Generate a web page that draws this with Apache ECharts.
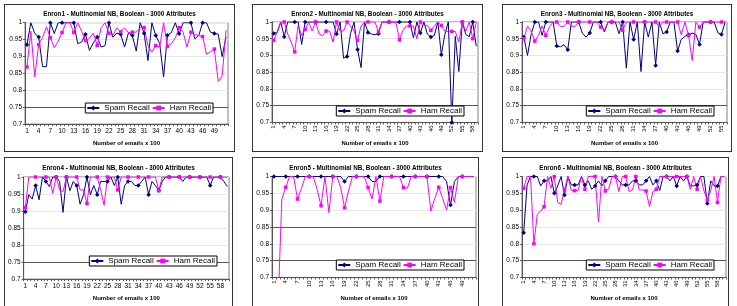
<!DOCTYPE html>
<html>
<head>
<meta charset="utf-8">
<script src="https://cdn.jsdelivr.net/npm/echarts@6/dist/echarts.min.js"></script>
<style>
body{margin:0;width:737px;height:306px;background:#fff;overflow:hidden;position:relative}
.panel{position:absolute;border:1px solid #333;background:#fff}
</style>
</head>
<body>
<div class="panel" id="c1" style="left:4px;top:4px;width:229px;height:146px"></div>
<div class="panel" id="c2" style="left:252px;top:4px;width:229px;height:146px"></div>
<div class="panel" id="c3" style="left:502px;top:4px;width:228px;height:146px"></div>
<div class="panel" id="c4" style="left:4px;top:157px;width:227px;height:148px"></div>
<div class="panel" id="c5" style="left:252px;top:157px;width:225px;height:148px"></div>
<div class="panel" id="c6" style="left:502px;top:157px;width:225px;height:148px"></div>
<script>
// recall per batch of 100 emails
const enron1Spam = [0.935, 1, 0.968, 0.958, 0.87, 0.87, 1, 0.968, 1, 1, 1, 1, 1,
  0.938, 0.943, 0.966, 0.918, 0.94, 0.958, 0.928, 0.932, 1, 0.957, 0.969, 0.966, 0.928,
  0.97, 0.962, 0.916, 1, 0.969, 0.888, 1, 0.962, 0.938, 0.84, 0.963, 0.971, 1,
  0.967, 1, 1, 1, 0.952, 0.962, 1, 1, 0.972, 0.968, 0.966, 0.9, 0.958]
const enron1Ham = [0.869, 0.975, 0.84, 0.935, 0.956, 0.988, 0.956, 0.926, 0.945, 0.971, 1, 1, 0.971,
  1, 0.975, 0.947, 0.954, 0.969, 0.933, 0.985, 1, 0.969, 0.962, 0.985, 0.973, 0.985, 0.97,
  0.972, 0.972, 0.985, 0.985, 0.932, 0.913, 0.932, 0.928, 1, 0.93, 0.938, 0.955, 0.985, 0.972,
  0.928, 0.972, 0.965, 0.962, 0.959, 0.907, 0.914, 0.922, 0.826, 0.842, 0.978]

const enron2Spam = [0.966, 0.969, 1, 0.956, 1, 1, 1, 1, 0.933, 1, 1, 1, 1, 1, 1, 1, 1, 1,
  0.964, 1, 0.892, 0.897, 0.966, 1, 0.918, 0.864, 1, 0.969, 0.964,
  0.962, 0.965, 1, 1, 1, 1, 1, 1, 1, 1, 1, 0.953, 1, 0.967, 1, 0.964, 0.955, 0.96, 1,
  0.902, 0.963, 1, 0.7, 0.957, 0.852, 1, 0.963, 0.956, 1, 0.928]
const enron2Ham = [0.945, 0.971, 1, 1, 0.964, 0.94, 0.911, 0.99, 0.96, 0.978,
  1, 0.973, 1, 0.964, 0.959, 0.973, 0.973, 0.94, 1, 0.973,
  0.973, 1, 0.988, 0.973, 0.945, 0.988, 1, 1, 1,
  1, 0.97, 1, 1, 1, 1, 1, 0.947, 0.975, 0.988, 0.988, 0.988, 0.95, 1, 0.99, 0.99, 0.975,
  0.988, 1, 0.99, 0.972, 0.972, 0.972, 0.972, 0.94, 1, 0.972, 1, 0.95, 1]

const enron3Spam = [0.955, 0.9, 0.963, 1, 1, 0.96, 1, 1, 1, 0.928,
  0.926, 0.932, 0.917, 1, 1, 1, 0.966, 0.955, 0.967, 1,
  1, 1, 0.97, 1, 1, 1, 0.965, 1, 0.862, 1,
  0.948, 1, 0.852, 1, 0.955, 1, 0.87, 1, 0.965, 0.97,
  1, 1, 0.913, 0.948, 0.957, 0.962, 0.967, 0.963, 0.933, 1,
  1, 1, 1, 0.968, 0.963, 1]
const enron3Ham = [0.95, 0.988, 0.972, 0.943, 0.96, 0.988, 0.96, 0.985, 1, 1,
  0.987, 0.987, 1, 0.987, 0.987, 1, 1, 1, 1, 1,
  1, 0.985, 0.975, 1, 1, 1, 1, 0.975, 1, 1,
  1, 1, 1, 1, 1, 1, 1, 0.985, 1, 1,
  1, 1, 1, 0.962, 1, 0.96, 0.885, 1, 0.985, 1,
  1, 1, 1, 1, 1, 1]

const enron4Spam = [0.898, 0.948, 0.935, 0.975, 0.933, 1, 0.987, 0.972, 1, 1,
  0.987, 0.896, 1, 0.96, 0.987, 0.975, 0.92, 0.948, 1, 0.948,
  0.975, 0.948, 0.987, 0.987, 0.987, 1, 0.975, 1, 0.92, 0.975,
  0.987, 0.987, 0.975, 0.975, 0.987, 1, 0.948, 0.987, 0.975, 0.96,
  0.987, 1, 1, 1, 1, 1, 0.987, 1, 1, 1,
  1, 1, 1, 1, 0.975, 1, 1, 1, 0.987, 0.972]
const enron4Ham = [0.91, 1, 1, 1, 1, 1, 1, 1, 0.952, 1,
  0.962, 0.957, 1, 1, 1, 1, 0.962, 0.962, 0.922, 1,
  1, 1, 0.962, 0.917, 1, 1, 1, 0.962, 1, 1,
  1, 1, 1, 1, 1, 1, 1, 1, 1, 0.96,
  1, 1, 1, 1, 1, 1, 1, 1, 1, 1,
  1, 1, 1, 1, 1, 1, 1, 1, 1, 1]

const enron5Spam = [1, 1, 1, 1, 1, 1, 1, 1, 1, 1,
  1, 1, 1, 1, 1, 1, 1, 1, 0.985, 1,
  1, 1, 1, 1, 1, 0.985, 0.985, 1, 1, 1,
  1, 1, 1, 1, 1, 1, 1, 1, 1, 1,
  1, 1, 1, 1, 0.985, 0.915, 0.985, 1, 1, 1,
  1, 1]
const enron5Ham = [0.5, 0.6, 0.932, 0.968, 1, 1, 0.933, 0.965, 1, 1,
  1, 0.962, 0.913, 1, 0.893, 1, 1, 0.968, 0.907, 0.957,
  1, 1, 1, 1, 0.967, 0.933, 1, 0.927, 1, 1,
  1, 1, 1, 0.967, 0.965, 1, 1, 1, 1, 1,
  0.897, 0.935, 0.968, 0.935, 0.9, 0.967, 0.923, 1, 1, 1,
  1, 1]

const enron6Spam = [0.833, 0.975, 1, 1, 1, 0.972, 0.987, 0.987, 1, 0.95,
  0.972, 1, 0.945, 1, 0.975, 0.975, 0.975, 1, 0.975, 0.987,
  0.962, 0.972, 0.987, 0.972, 0.987, 1, 1, 1, 0.987, 0.975,
  0.975, 0.975, 0.987, 0.987, 0.975, 0.975, 0.987, 1, 0.975, 0.987,
  0.958, 1, 1, 0.987, 1, 0.972, 1, 0.987, 1, 0.972,
  0.972, 0.975, 1, 1, 0.92, 0.987, 0.972, 0.972, 1, 1]
const enron6Ham = [0.965, 1, 1, 0.8, 0.888, 0.897, 0.91, 1, 0.965, 1,
  0.923, 0.917, 0.96, 1, 0.958, 0.958, 0.958, 1, 0.962, 1,
  1, 1, 0.865, 1, 0.957, 0.963, 1, 1, 0.955, 1,
  1, 0.955, 0.96, 1, 0.96, 0.96, 0.957, 0.91, 0.955, 0.962,
  1, 1, 1, 1, 1, 1, 1, 1, 1, 0.962,
  1, 0.962, 1, 0.958, 0.93, 0.958, 1, 0.923, 1, 1]

const FONT = 'Liberation Sans, Arial, sans-serif'

function makeChart(id, cfg){
    const n = cfg.spam.length
    const cats = cfg.spam.map((v, i) => String(i + 1))
    const chart = echarts.init(document.getElementById(id))
    chart.setOption({
        animation:false,
        textStyle:{fontFamily:FONT},
        title:{
            text:cfg.title,
            left:'center',
            top:cfg.titleTop,
            padding:0,
            textStyle:{fontSize:6.3,fontWeight:'bold',color:'#000',fontFamily:FONT}
        },
        legend:{
            right:cfg.legend[0],
            top:cfg.legend[1],
            z:10,
            orient:'horizontal',
            backgroundColor:'#fff',
            borderColor:'#000',
            borderWidth:1,
            padding:[1,2,1,1],
            itemGap:2,
            itemWidth:12,
            itemHeight:6,
            textStyle:{fontSize:8,color:'#000',fontFamily:FONT},
            data:['Spam Recall','Ham Recall']
        },
        grid:{
            left:cfg.grid[0], right:cfg.grid[1], top:cfg.grid[2], bottom:cfg.grid[3],
            show:true, borderColor:'#808080', borderWidth:1, backgroundColor:'#fff'
        },
        xAxis:{
            type:'category',
            data:cats,
            boundaryGap:true,
            name:'Number of emails x 100',
            nameLocation:'middle',
            nameGap:cfg.nameGap,
            nameTextStyle:{fontSize:6,fontWeight:'bold',color:'#000',fontFamily:FONT},
            axisLine:{lineStyle:{color:'#555',width:1}},
            axisTick:{show:true,interval:0,length:2,lineStyle:{color:'#555'}},
            axisLabel:{
                // every third batch, the last one is left without a label
                interval:(idx) => idx % 3 === 0 && idx < n - 1,
                rotate:cfg.rotate ? 90 : 0,
                fontSize:cfg.rotate ? 6 : 6.5,
                margin:cfg.rotate ? 3 : 4,
                color:'#000',
                fontFamily:FONT
            },
            splitLine:{show:false}
        },
        yAxis:{
            type:'value',
            min:0.7,
            max:1,
            interval:0.05,
            axisLine:{show:true,lineStyle:{color:'#555',width:1}},
            axisTick:{show:true,length:2,lineStyle:{color:'#555'}},
            axisLabel:{
                fontSize:6.5,
                margin:3,
                color:'#000',
                fontFamily:FONT,
                formatter:v => String(+v.toFixed(2))
            },
            splitLine:{show:true,lineStyle:{color:'#e6e6e6',width:1}}
        },
        series:[
            {
                name:'Spam Recall',
                type:'line',
                data:cfg.spam,
                symbol:'diamond',
                symbolSize:4.5,
                clip:true,
                lineStyle:{color:'#000080',width:1},
                itemStyle:{color:'#000080'},
                markLine:{
                    silent:true,
                    symbol:'none',
                    label:{show:false},
                    lineStyle:{color:'#555',width:1,type:'solid'},
                    data:cfg.darkLines.map(v => ({yAxis:v}))
                }
            },
            {
                name:'Ham Recall',
                type:'line',
                data:cfg.ham,
                symbol:'rect',
                symbolSize:3.5,
                clip:true,
                lineStyle:{color:'#ff00ff',width:1},
                itemStyle:{color:'#ff00ff'}
            }
        ]
    })
}

// legend: [right, top] inside each panel
makeChart('c1', {title:'Enron1 - Multinomial NB, Boolean - 3000 Attributes', spam:enron1Spam, ham:enron1Ham,
    grid:[20,6,17.7,23.7], legend:[21,98], titleTop:6, nameGap:14, rotate:false, darkLines:[0.75]})
makeChart('c2', {title:'Enron2 - Multinomial NB, Boolean - 3000 Attributes', spam:enron2Spam, ham:enron2Ham,
    grid:[19,4,17,23.3], legend:[18,101], titleTop:6, nameGap:14, rotate:true, darkLines:[0.75]})
makeChart('c3', {title:'Enron3 - Multinomial NB, Boolean - 3000 Attributes', spam:enron3Spam, ham:enron3Ham,
    grid:[19,4,17,23.3], legend:[17,101], titleTop:6, nameGap:14, rotate:true, darkLines:[0.75]})
makeChart('c4', {title:'Enron4 - Multinomial NB, Boolean - 3000 Attributes', spam:enron4Spam, ham:enron4Ham,
    grid:[18.3,3,19,26.3], legend:[15,98], titleTop:7, nameGap:15, rotate:false, darkLines:[0.75]})
makeChart('c5', {title:'Enron5 - Multinomial NB, Boolean - 3000 Attributes', spam:enron5Spam, ham:enron5Ham,
    grid:[19,2,18.5,26], legend:[14,102], titleTop:7, nameGap:14.5, rotate:true, darkLines:[0.75,0.85]})
makeChart('c6', {title:'Enron6 - Multinomial NB, Boolean - 3000 Attributes', spam:enron6Spam, ham:enron6Ham,
    grid:[19,2,18.5,26], legend:[14,102], titleTop:7, nameGap:14.5, rotate:true, darkLines:[0.75]})
</script>
</body>
</html>
